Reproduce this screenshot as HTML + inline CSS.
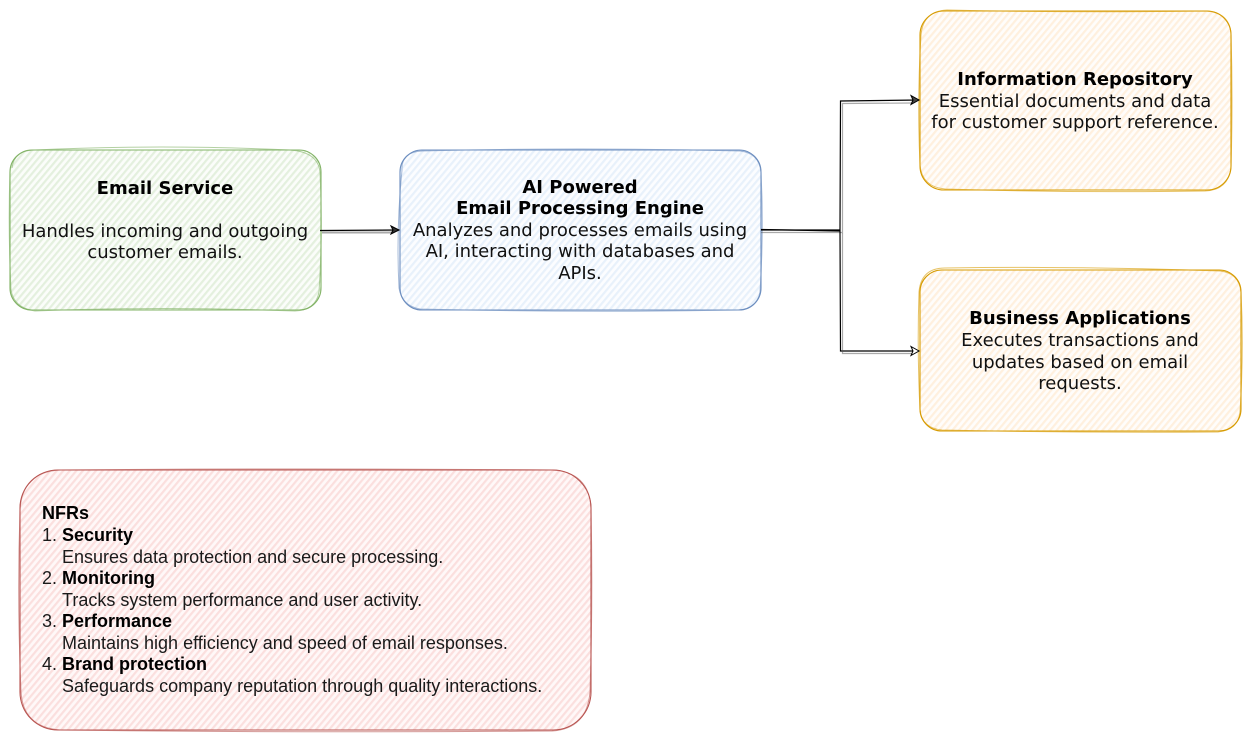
<!DOCTYPE html>
<html><head><meta charset="utf-8"><style>
html,body{margin:0;padding:0;background:#fff}
svg{display:block}
.d{font-family:"DejaVu Sans",sans-serif;font-size:18px;fill:#111;text-anchor:middle}
.b{font-weight:bold;fill:#000}
.l{font-family:"Liberation Sans",sans-serif;font-size:18px;fill:#1a1a1a}
.lb{font-weight:bold;fill:#000}
.c{fill:none;stroke:#000;stroke-width:1.2}
.s{fill:none;stroke:#555;stroke-width:1.2;opacity:.5}
</style></head><body>
<svg width="1251" height="742" viewBox="0 0 1251 742" xmlns="http://www.w3.org/2000/svg">
<defs>
<pattern id="g" width="5" height="5" patternUnits="userSpaceOnUse" patternTransform="rotate(-50)"><rect width="5" height="5" fill="#fbfdfa"/><rect width="5" height="2.200" fill="#e4f0de"/></pattern>
<pattern id="bl" width="5" height="5" patternUnits="userSpaceOnUse" patternTransform="rotate(-50)"><rect width="5" height="5" fill="#fcfdff"/><rect width="5" height="2.200" fill="#e8f1fb"/></pattern>
<pattern id="o" width="5" height="5" patternUnits="userSpaceOnUse" patternTransform="rotate(-50)"><rect width="5" height="5" fill="#fffdfb"/><rect width="5" height="2.200" fill="#fff0de"/></pattern>
<pattern id="r" width="5" height="5" patternUnits="userSpaceOnUse" patternTransform="rotate(-50)"><rect width="5" height="5" fill="#fff8f8"/><rect width="5" height="2.200" fill="#fbdfde"/></pattern>
</defs>

<!-- Email Service -->
<rect x="10" y="150" width="311" height="160" rx="22" fill="url(#g)"/>
<rect x="10" y="150" width="311" height="160" rx="22" fill="none" stroke="#82b366" stroke-width="1.1"/>
<path d="M12 168Q14 150 35 150Q160 144 290 150Q318 152 320 172Q323 230 319 292Q316 310 295 311Q160 306 35 311Q14 308 11 290Q8 230 10 170" fill="none" stroke="#82b366" stroke-width="1" opacity=".6"/>
<text class="d b" x="165" y="194">Email Service</text>
<text class="d" x="165" y="237">Handles incoming and outgoing</text>
<text class="d" x="165" y="258">customer emails.</text>

<!-- AI Engine -->
<rect x="400" y="150" width="361" height="160" rx="22" fill="url(#bl)"/>
<rect x="400" y="150" width="361" height="160" rx="22" fill="none" stroke="#6c8ebf" stroke-width="1.1"/>
<path d="M402 170Q401 152 422 151Q580 147 740 151Q759 153 761 172Q764 230 760 292Q757 309 738 310Q580 313 420 309Q402 306 399 288Q396 230 402 170" fill="none" stroke="#6c8ebf" stroke-width="1" opacity=".6"/>
<text class="d b" x="580" y="193">AI Powered</text>
<text class="d b" x="580" y="214">Email Processing Engine</text>
<text class="d" x="580" y="236">Analyzes and processes emails using</text>
<text class="d" x="580" y="257">AI, interacting with databases and</text>
<text class="d" x="580" y="279">APIs.</text>

<!-- Information Repository -->
<rect x="920" y="11" width="311" height="179" rx="24" fill="url(#o)"/>
<rect x="920" y="11" width="311" height="179" rx="24" fill="none" stroke="#d79b00" stroke-width="1.1"/>
<path d="M921 35Q923 11 947 10Q1075 13 1205 11Q1229 12 1231 33Q1233 100 1231 168Q1228 190 1205 191Q1075 193 945 189Q922 187 920 165Q917 100 921 35" fill="none" stroke="#d79b00" stroke-width="1" opacity=".6"/>
<text class="d b" x="1075" y="85">Information Repository</text>
<text class="d" x="1075" y="107">Essential documents and data</text>
<text class="d" x="1075" y="128">for customer support reference.</text>

<!-- Business Applications -->
<rect x="920" y="270" width="321" height="161" rx="22" fill="url(#o)"/>
<rect x="920" y="270" width="321" height="161" rx="22" fill="none" stroke="#d79b00" stroke-width="1.1"/>
<path d="M919 292Q921 268 945 268Q1080 266 1220 271Q1239 273 1241 292Q1244 350 1240 412Q1238 430 1218 432Q1080 433 942 430Q922 428 920 410Q917 350 919 292" fill="none" stroke="#d79b00" stroke-width="1" opacity=".6"/>
<text class="d b" x="1080" y="324">Business Applications</text>
<text class="d" x="1080" y="346">Executes transactions and</text>
<text class="d" x="1080" y="368">updates based on email</text>
<text class="d" x="1080" y="389">requests.</text>

<!-- NFRs -->
<rect x="20" y="470" width="571" height="260" rx="38" fill="url(#r)"/>
<rect x="20" y="470" width="571" height="260" rx="38" fill="none" stroke="#b85450" stroke-width="1.1"/>
<path d="M20 510Q22 472 60 470Q305 468 552 470Q589 472 591 508Q593 600 590 692Q587 729 552 731Q305 733 60 730Q23 727 21 692Q17 600 20 510" fill="none" stroke="#b85450" stroke-width="1" opacity=".6"/>
<text class="l lb" x="42" y="519">NFRs</text>
<text class="l" x="42" y="541">1.</text><text class="l lb" x="62" y="541">Security</text>
<text class="l" x="62" y="563">Ensures data protection and secure processing.</text>
<text class="l" x="42" y="584">2.</text><text class="l lb" x="62" y="584">Monitoring</text>
<text class="l" x="62" y="606">Tracks system performance and user activity.</text>
<text class="l" x="42" y="627">3.</text><text class="l lb" x="62" y="627">Performance</text>
<text class="l" x="62" y="649">Maintains high efficiency and speed of email responses.</text>
<text class="l" x="42" y="670">4.</text><text class="l lb" x="62" y="670">Brand protection</text>
<text class="l" x="62" y="692">Safeguards company reputation through quality interactions.</text>

<!-- Connectors -->
<path class="c" d="M320 230.500L399 230"/>
<path class="s" d="M322 232.500L392 232.500" style="stroke-width:2"/>
<path d="M391 226L399 230L391 234L393 230Z" fill="#333" stroke="#000" stroke-width="1"/>

<path class="c" d="M761 230L840 230L840.500 101L919 100"/>
<path class="s" d="M761 232.500L842.500 232.500L842.500 103.500L912 103"/>
<path d="M911 95.500L919 100L911 104.500L913 100Z" fill="#444" stroke="#000" stroke-width="1"/>

<path class="c" d="M761 229.500L840 231L840.500 351L919 351"/>
<path class="s" d="M842.500 233L842.500 353.500L914 353.500"/>
<path d="M911 346.500L919 351L911 355.500L913 351Z" fill="#fff" stroke="#000" stroke-width="1"/>
</svg>
</body></html>
